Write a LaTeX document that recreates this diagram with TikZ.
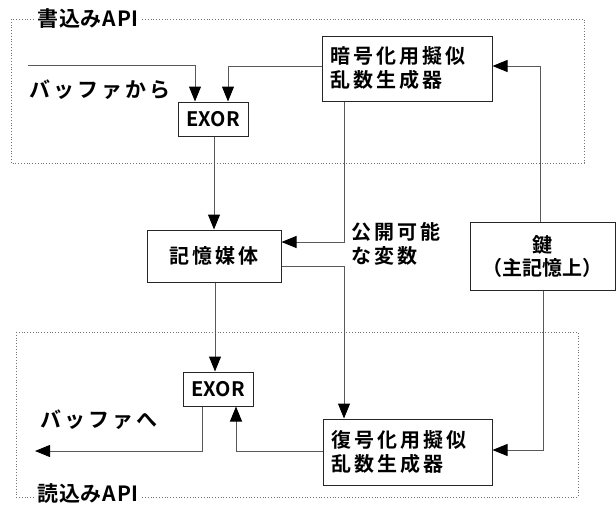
\documentclass[tikz,border=0pt]{standalone}
\usepackage{fontspec}
\setmainfont{Noto Sans CJK JP}[BoldFont={Noto Sans CJK JP Bold}]
\usetikzlibrary{arrows.meta}
\begin{document}
\begin{tikzpicture}[x=1pt,y=-1pt,
  box/.style={draw=black!85,line width=1pt,fill=white,inner sep=0pt,font=\bfseries\fontsize{20}{24}\selectfont\addfontfeatures{LetterSpace=15}},
  conn/.style={draw=black!65,line width=1pt},
  arr/.style={conn,-{Triangle[length=15pt,width=12pt,color=black,fill=black]}},
  lbl/.style={inner sep=0pt,font=\bfseries\fontsize{21}{24}\selectfont\addfontfeatures{LetterSpace=15}},
  area/.style={draw=black!55,dotted,line width=0.8pt},
  title/.style={fill=white,inner xsep=3pt,inner ysep=1pt,anchor=west,font=\bfseries\fontsize{21}{24}\selectfont\addfontfeatures{LetterSpace=4}}]
\useasboundingbox (0,0) rectangle (616,506);
% API areas
\draw[area] (11,19) rectangle (584,163);
\draw[area] (16,332) rectangle (578,497);
\node[title] (tw) at (34,19) {書込みAPI};
\node[title] (tr) at (34,494) {読込みAPI};
% nodes
\node[box,minimum width=170pt,minimum height=65pt,text width=154pt,align=left] (encg) at (407,68.5) {暗号化用擬似\\乱数生成器};
\node[box,minimum width=70pt,minimum height=34pt,font=\bfseries\fontsize{20}{24}\selectfont] (exor1) at (213,119) {EXOR};
\node[box,minimum width=134pt,minimum height=52pt] (store) at (214,256) {記憶媒体};
\node[box,minimum width=145pt,minimum height=68pt,align=center,font=\bfseries\fontsize{20}{23}\selectfont] (key) at (542.5,256) {鍵\\（主記憶上）};
\node[box,minimum width=169pt,minimum height=66pt,text width=153pt,align=left] (decg) at (407.5,452) {復号化用擬似\\乱数生成器};
\node[box,minimum width=70pt,minimum height=34pt,font=\bfseries\fontsize{20}{24}\selectfont] (exor2) at (218,389) {EXOR};
% labels
\node[lbl] (lfrom) at (100,90) {バッファから};
\node[lbl] (lto) at (99,420) {バッファへ};
\node[inner sep=0pt,align=left,anchor=west,font=\bfseries\fontsize{20}{24}\selectfont\addfontfeatures{LetterSpace=15}] (lpub) at (351,244) {公開可能\\な変数};
% connectors
\coordinate (bin) at (28,65);
\coordinate (bout) at (35,451);
\draw[arr] (bin) -| ([xshift=-18pt]exor1.north);
\draw[arr] ([yshift=2.5pt]encg.west) -| ([xshift=15pt]exor1.north);
\draw[arr] ([xshift=1pt]exor1.south) -- ([xshift=1pt]exor1.south |- store.north);
\draw[arr] ([xshift=-63pt]encg.south) |- ([yshift=14pt]store.east);
\draw[arr] ([yshift=-10pt]store.east) -| ([xshift=-63.5pt]decg.north);
\draw[arr] ([xshift=-2.5pt]key.north) |- ([yshift=2.5pt]encg.east);
\draw[arr] ([xshift=0.5pt]key.south) |- ([yshift=2pt]decg.east);
\draw[arr] ([xshift=1pt]store.south) -- ([xshift=1pt]store.south |- exor2.north);
\draw[arr] ([xshift=-16pt]exor2.south) |- (bout);
\draw[arr] ([yshift=1pt]decg.west) -| ([xshift=18pt]exor2.south);
\end{tikzpicture}
\end{document}
